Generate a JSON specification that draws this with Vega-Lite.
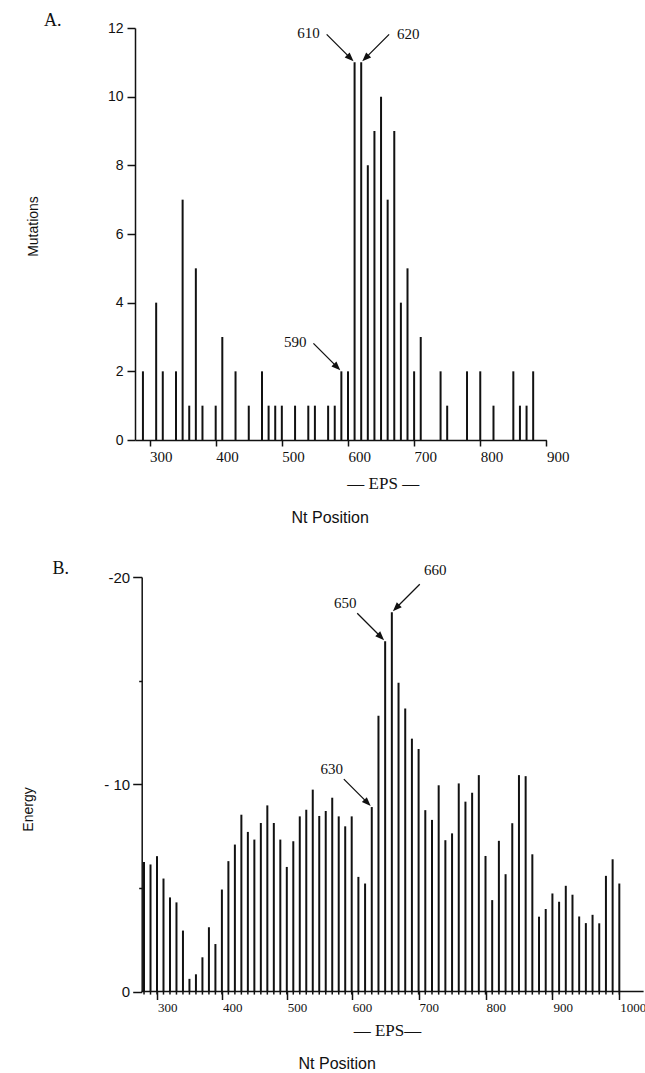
{
  "$schema": "https://vega.github.io/schema/vega-lite/v6.json",
  "background": "white",
  "padding": {"left": 21, "top": 11, "right": 5, "bottom": 5},
  "bounds": "flush",
  "spacing": 137,
  "config": {
    "view": {"stroke": null},
    "axis": {
      "grid": false,
      "domainColor": "#111",
      "domainWidth": 1.5,
      "tickColor": "#111",
      "tickWidth": 1.5,
      "labelColor": "#111",
      "titleColor": "#111",
      "labelOverlap": false,
      "labelFlush": false,
      "titleFontWeight": "normal"
    }
  },
  "datasets": {
    "mutations": [
      {"pos": 290, "count": 2}, {"pos": 310, "count": 4}, {"pos": 320, "count": 2},
      {"pos": 340, "count": 2}, {"pos": 350, "count": 7}, {"pos": 360, "count": 1},
      {"pos": 370, "count": 5}, {"pos": 380, "count": 1}, {"pos": 400, "count": 1},
      {"pos": 410, "count": 3}, {"pos": 430, "count": 2}, {"pos": 450, "count": 1},
      {"pos": 470, "count": 2}, {"pos": 480, "count": 1}, {"pos": 490, "count": 1},
      {"pos": 500, "count": 1}, {"pos": 520, "count": 1}, {"pos": 540, "count": 1},
      {"pos": 550, "count": 1}, {"pos": 570, "count": 1}, {"pos": 580, "count": 1},
      {"pos": 590, "count": 2}, {"pos": 600, "count": 2}, {"pos": 610, "count": 11},
      {"pos": 620, "count": 11}, {"pos": 630, "count": 8}, {"pos": 640, "count": 9},
      {"pos": 650, "count": 10}, {"pos": 660, "count": 7}, {"pos": 670, "count": 9},
      {"pos": 680, "count": 4}, {"pos": 690, "count": 5}, {"pos": 700, "count": 2},
      {"pos": 710, "count": 3}, {"pos": 740, "count": 2}, {"pos": 750, "count": 1},
      {"pos": 780, "count": 2}, {"pos": 800, "count": 2}, {"pos": 820, "count": 1},
      {"pos": 850, "count": 2}, {"pos": 860, "count": 1}, {"pos": 870, "count": 1},
      {"pos": 880, "count": 2}
    ],
    "energy": [
      {"pos": 280, "energy": -6.25}, {"pos": 290, "energy": -6.13}, {"pos": 300, "energy": -6.53},
      {"pos": 310, "energy": -5.45}, {"pos": 320, "energy": -4.54}, {"pos": 330, "energy": -4.3},
      {"pos": 340, "energy": -2.94}, {"pos": 350, "energy": -0.61}, {"pos": 360, "energy": -0.83},
      {"pos": 370, "energy": -1.65}, {"pos": 380, "energy": -3.1}, {"pos": 390, "energy": -2.29},
      {"pos": 400, "energy": -4.92}, {"pos": 410, "energy": -6.29}, {"pos": 420, "energy": -7.09},
      {"pos": 430, "energy": -8.53}, {"pos": 440, "energy": -7.7}, {"pos": 450, "energy": -7.33},
      {"pos": 460, "energy": -8.13}, {"pos": 470, "energy": -8.98}, {"pos": 480, "energy": -8.13},
      {"pos": 490, "energy": -7.33}, {"pos": 500, "energy": -6.01}, {"pos": 510, "energy": -7.25},
      {"pos": 520, "energy": -8.45}, {"pos": 530, "energy": -8.77}, {"pos": 540, "energy": -9.74},
      {"pos": 550, "energy": -8.47}, {"pos": 560, "energy": -8.71}, {"pos": 570, "energy": -9.35},
      {"pos": 580, "energy": -8.45}, {"pos": 590, "energy": -7.97}, {"pos": 600, "energy": -8.45},
      {"pos": 610, "energy": -5.53}, {"pos": 620, "energy": -5.21}, {"pos": 630, "energy": -8.9},
      {"pos": 640, "energy": -13.3}, {"pos": 650, "energy": -16.9}, {"pos": 660, "energy": -18.3},
      {"pos": 670, "energy": -14.9}, {"pos": 680, "energy": -13.65}, {"pos": 690, "energy": -12.2},
      {"pos": 700, "energy": -11.7}, {"pos": 710, "energy": -8.75}, {"pos": 720, "energy": -8.28},
      {"pos": 730, "energy": -9.95}, {"pos": 740, "energy": -7.3}, {"pos": 750, "energy": -7.63},
      {"pos": 760, "energy": -10.04}, {"pos": 770, "energy": -9.16}, {"pos": 780, "energy": -9.59},
      {"pos": 790, "energy": -10.44}, {"pos": 800, "energy": -6.54}, {"pos": 810, "energy": -4.41},
      {"pos": 820, "energy": -7.27}, {"pos": 830, "energy": -5.66}, {"pos": 840, "energy": -8.12},
      {"pos": 850, "energy": -10.44}, {"pos": 860, "energy": -10.39}, {"pos": 870, "energy": -6.62},
      {"pos": 880, "energy": -3.61}, {"pos": 890, "energy": -3.98}, {"pos": 900, "energy": -4.73},
      {"pos": 910, "energy": -4.33}, {"pos": 920, "energy": -5.1}, {"pos": 930, "energy": -4.67},
      {"pos": 940, "energy": -3.62}, {"pos": 950, "energy": -3.3}, {"pos": 960, "energy": -3.7},
      {"pos": 970, "energy": -3.29}, {"pos": 980, "energy": -5.58}, {"pos": 990, "energy": -6.38},
      {"pos": 1000, "energy": -5.21}
    ],
    "annotA": [
      {"label": "590", "pos": 590, "count": 2},
      {"label": "610", "pos": 610, "count": 11},
      {"label": "620", "pos": 620, "count": 11}
    ],
    "annotB": [
      {"label": "630", "pos": 630, "energy": -8.9},
      {"label": "650", "pos": 650, "energy": -16.9},
      {"label": "660", "pos": 660, "energy": -18.3}
    ]
  },
  "vconcat": [
    {
      "width": 411.4,
      "height": 412,
      "layer": [
        {
          "data": {"name": "mutations"},
          "mark": {"type": "rule", "strokeWidth": 2, "color": "#111"},
          "encoding": {
            "x": {
              "field": "pos", "type": "quantitative",
              "scale": {"domain": [278, 900], "nice": false, "zero": false},
              "axis": {
                "values": [300, 400, 500, 600, 700, 800, 900],
                "format": "d",
                "tickSize": 6,
                "labelAlign": "left",
                "labelOffset": 0,
                "labelPadding": 3,
                "labelFont": "Liberation Serif",
                "labelFontSize": 15,
                "title": "Nt Position",
                "titleX": 194.7,
                "titleY": 82.7,
                "titleBaseline": "alphabetic",
                "titleAlign": "center",
                "titleFont": "Liberation Sans",
                "titleFontSize": 16
              }
            },
            "y": {
              "field": "count", "type": "quantitative",
              "scale": {"domain": [0, 12], "nice": false},
              "axis": {
                "values": [0, 1, 2, 3, 4, 5, 6, 7, 8, 9, 10, 11, 12],
                "tickSize": {"condition": {"test": "datum.value % 2 === 0", "value": 8}, "value": 3},
                "labelExpr": "datum.value % 2 === 0 ? datum.label : ''",
                "labelFont": "Liberation Sans",
                "labelFontSize": 14,
                "labelPadding": 4,
                "title": "Mutations",
                "titleX": -102,
                "titleY": 198,
                "titleAngle": -90,
                "titleBaseline": "middle",
                "titleAlign": "center",
                "titleFont": "Liberation Sans",
                "titleFontSize": 14
              }
            },
            "y2": {"datum": 0}
          }
        },
        {
          "data": {"name": "annotA"},
          "mark": {"type": "point", "shape": "M-0.3,0L-2.1,-0.7L-2.1,-0.13L-7.9,-0.13L-7.9,0.13L-2.1,0.13L-2.1,0.7Z", "size": 100, "filled": true, "color": "#111", "opacity": 1, "strokeWidth": 0},
          "encoding": {
            "x": {"field": "pos", "type": "quantitative"},
            "y": {"field": "count", "type": "quantitative"},
            "angle": {"condition": {"test": "datum.label === '620'", "value": 135}, "value": 45}
          }
        },
        {
          "data": {"name": "annotA"},
          "transform": [{"filter": "datum.label !== '620'"}],
          "mark": {"type": "text", "dx": -46, "dy": -29, "font": "Liberation Serif", "fontSize": 15, "color": "#111"},
          "encoding": {
            "x": {"field": "pos", "type": "quantitative"},
            "y": {"field": "count", "type": "quantitative"},
            "text": {"field": "label"}
          }
        },
        {
          "data": {"name": "annotA"},
          "transform": [{"filter": "datum.label === '620'"}],
          "mark": {"type": "text", "dx": 47, "dy": -28, "font": "Liberation Serif", "fontSize": 15, "color": "#111"},
          "encoding": {
            "x": {"field": "pos", "type": "quantitative"},
            "y": {"field": "count", "type": "quantitative"},
            "text": {"field": "label"}
          }
        },
        {
          "data": {"values": [{"t": "— EPS —"}]},
          "mark": {"type": "text", "font": "Liberation Serif", "fontSize": 17, "baseline": "alphabetic", "align": "center", "color": "#111"},
          "encoding": {
            "x": {"datum": 653.3, "type": "quantitative"},
            "y": {"datum": -1.44, "type": "quantitative"},
            "text": {"field": "t"}
          }
        },
        {
          "data": {"values": [{"t": "A."}]},
          "mark": {"type": "text", "font": "Liberation Serif", "fontSize": 18, "baseline": "alphabetic", "align": "left", "color": "#111"},
          "encoding": {
            "x": {"datum": 140.4, "type": "quantitative"},
            "y": {"datum": 12.06, "type": "quantitative"},
            "text": {"field": "t"}
          }
        }
      ]
    },
    {
      "width": 508.7,
      "height": 414.5,
      "layer": [
        {
          "data": {"name": "energy"},
          "mark": {"type": "rule", "strokeWidth": 2, "color": "#111"},
          "encoding": {
            "x": {
              "field": "pos", "type": "quantitative",
              "scale": {"domain": [266.1, 600, 1036.3], "range": [0, 216.7, 508.6], "nice": false, "zero": false},
              "axis": {
                "values": [300, 400, 500, 600, 700, 800, 900, 1000],
                "format": "d",
                "domain": false,
                "tickSize": 8,
                "labelAlign": "left",
                "labelOffset": 0.5,
                "labelFontSize": 13,
                "labelPadding": 2,
                "labelFont": "Liberation Serif",
                "title": "Nt Position",
                "titleX": 201.7,
                "titleY": 77,
                "titleBaseline": "alphabetic",
                "titleAlign": "center",
                "titleFont": "Liberation Sans",
                "titleFontSize": 16
              }
            },
            "y": {
              "field": "energy", "type": "quantitative",
              "scale": {"domain": [0, -20], "nice": false},
              "axis": {
                "values": [0, -5, -10, -15, -20],
                "offset": -6.7,
                "tickSize": {"condition": {"test": "datum.value % 10 === 0", "value": 9}, "value": 3},
                "labelExpr": "datum.value === -10 ? '- 10' : (datum.value === -20 ? '-20' : (datum.value === 0 ? '0' : ''))",
                "labelFont": "Liberation Sans",
                "labelFontSize": 15,
                "labelPadding": 3,
                "title": "Energy",
                "titleX": -113,
                "titleY": 232,
                "titleAngle": -90,
                "titleBaseline": "middle",
                "titleAlign": "center",
                "titleFont": "Liberation Sans",
                "titleFontSize": 14
              }
            },
            "y2": {"datum": 0}
          }
        },
        {
          "data": {"name": "energy"},
          "mark": {"type": "rule", "strokeWidth": 1.5, "color": "#111"},
          "encoding": {
            "x": {"field": "pos", "type": "quantitative"},
            "y": {"datum": 0, "type": "quantitative"},
            "y2": {"datum": 0.15}
          }
        },
        {
          "data": {"values": [{"t": "baseline"}]},
          "mark": {"type": "rule", "strokeWidth": 1.5, "color": "#111"},
          "encoding": {
            "x": {"datum": 276.2, "type": "quantitative"},
            "x2": {"datum": 1036.3},
            "y": {"datum": 0, "type": "quantitative"}
          }
        },
        {
          "data": {"name": "annotB"},
          "mark": {"type": "point", "shape": "M-0.3,0L-2.1,-0.7L-2.1,-0.13L-7.9,-0.13L-7.9,0.13L-2.1,0.13L-2.1,0.7Z", "size": 100, "filled": true, "color": "#111", "opacity": 1, "strokeWidth": 0},
          "encoding": {
            "x": {"field": "pos", "type": "quantitative"},
            "y": {"field": "energy", "type": "quantitative"},
            "angle": {"condition": {"test": "datum.label === '660'", "value": 135}, "value": 45}
          }
        },
        {
          "data": {"name": "annotB"},
          "transform": [{"filter": "datum.label !== '660'"}],
          "mark": {"type": "text", "dx": -40, "dy": -38, "font": "Liberation Serif", "fontSize": 15, "color": "#111"},
          "encoding": {
            "x": {"field": "pos", "type": "quantitative"},
            "y": {"field": "energy", "type": "quantitative"},
            "text": {"field": "label"}
          }
        },
        {
          "data": {"name": "annotB"},
          "transform": [{"filter": "datum.label === '660'"}],
          "mark": {"type": "text", "dx": 43.5, "dy": -42, "font": "Liberation Serif", "fontSize": 15, "color": "#111"},
          "encoding": {
            "x": {"field": "pos", "type": "quantitative"},
            "y": {"field": "energy", "type": "quantitative"},
            "text": {"field": "label"}
          }
        },
        {
          "data": {"values": [{"t": "— EPS—"}]},
          "mark": {"type": "text", "font": "Liberation Serif", "fontSize": 17, "baseline": "alphabetic", "align": "center", "color": "#111"},
          "encoding": {
            "x": {"datum": 653.4, "type": "quantitative"},
            "y": {"datum": 2.15, "type": "quantitative"},
            "text": {"field": "t"}
          }
        },
        {
          "data": {"values": [{"t": "B."}]},
          "mark": {"type": "text", "font": "Liberation Serif", "fontSize": 18, "baseline": "alphabetic", "align": "left", "color": "#111"},
          "encoding": {
            "x": {"datum": 139, "type": "quantitative"},
            "y": {"datum": -20.13, "type": "quantitative"},
            "text": {"field": "t"}
          }
        }
      ]
    }
  ]
}
